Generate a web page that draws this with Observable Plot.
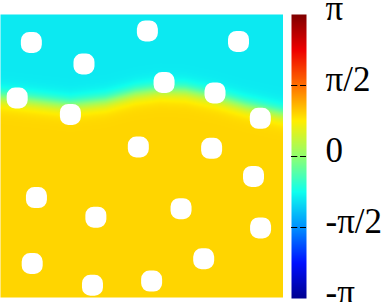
<!DOCTYPE html>
<html>
<head>
<meta charset="utf-8">
<script src="https://cdn.jsdelivr.net/npm/d3@7"></script>
<script src="https://cdn.jsdelivr.net/npm/@observablehq/plot@0.6"></script>
<style>
  html, body { margin: 0; padding: 0; background: #fff; overflow: hidden; }
  #wrap { display: flex; width: 389px; height: 302px; }
</style>
</head>
<body>
<div id="wrap"></div>
<script>
const PI = Math.PI;

// Phase levels (upper cyan region, lower gold region)
const phaseTop = -0.3 * PI;
const phaseBottom = 0.3 * PI;

// Interface between the two regions (domain units 0..100, y up)
const boundaryX = [0, 12.4, 24.7, 37.1, 47.7, 56.5, 65.4, 76.0, 86.6, 100];
const boundaryY = [70.8, 69.4, 68.0, 69.4, 72.2, 73.4, 73.0, 70.8, 67.8, 64.8];
const interfaceWidth = 3.2;

// Obstacles (white holes)
const holeX = [10.9, 51.9, 84.1, 29.5, 57.8, 75.8, 5.9, 24.7, 91.8, 48.7, 74.6, 89.4, 12.7, 33.7, 63.8, 91.9, 11.2, 71.8, 32.5, 53.4];
const holeY = [90.1, 94.2, 90.5, 82.5, 76.0, 72.3, 70.5, 64.7, 63.3, 53.2, 52.7, 42.8, 35.3, 28.4, 31.4, 24.6, 12.0, 13.7, 4.3, 5.8];

// Palette (gnuplot jet-like) and colorbar ticks
const paletteStops = [-PI, -3*PI/4, -PI/2, -PI/4, 0, PI/4, PI/2, 3*PI/4, PI];
const paletteColors = ["#000090", "#000fff", "#0090ff", "#0fffee", "#90ff70", "#ffee00", "#ff7000", "#ee0000", "#7f0000"];
const tickValues = [PI, PI/2, 0, -PI/2, -PI];
const tickLabels = ["π", "π/2", "0", "-π/2", "-π"];
const innerTicks = [PI/2, 0, -PI/2];

const holes = holeX.map((x, i) => ({x, y: holeY[i]}));
const boundary = d3.scaleLinear().domain(boundaryX).range(boundaryY).clamp(true);

const colorScale = {type: "linear", domain: paletteStops, range: paletteColors, interpolate: "rgb"};

const roundedSquare = {
  draw(ctx, size) {
    const side = 2 * Math.sqrt(size / Math.PI);
    const h = side / 2, c = side * 0.4;
    ctx.moveTo(-h + c, -h);
    ctx.arcTo(h, -h, h, h, c);
    ctx.arcTo(h, h, -h, h, c);
    ctx.arcTo(-h, h, -h, -h, c);
    ctx.arcTo(-h, -h, h, -h, c);
    ctx.closePath();
  }
};

const field = Plot.plot({
  width: 283,
  height: 302,
  marginLeft: 0, marginRight: 0, marginTop: 14, marginBottom: 5,
  x: {domain: [0, 100], axis: null},
  y: {domain: [0, 100], axis: null},
  color: colorScale,
  marks: [
    Plot.raster({
      x1: 0, x2: 100, y1: 0, y2: 100, width: 283, height: 283,
      fill: (x, y) => {
        const t = (1 + Math.tanh((boundary(x) - y) / interfaceWidth)) / 2;
        return phaseTop + (phaseBottom - phaseTop) * t;
      }
    }),
    Plot.dot(holes, {x: "x", y: "y", r: 10.5, symbol: roundedSquare, fill: "white", stroke: "none"})
  ]
});

const bar = Plot.plot({
  width: 106,
  height: 302,
  marginLeft: 8, marginRight: 83, marginTop: 14, marginBottom: 4,
  x: {domain: [0, 1], axis: null},
  y: {domain: [-PI, PI], axis: null},
  color: colorScale,
  style: {overflow: "visible"},
  marks: [
    Plot.raster({x1: 0, x2: 1, y1: -PI, y2: PI, width: 1, height: 284, fill: (x, y) => y}),
    Plot.ruleY(innerTicks, {y: d => d, x1: 0, x2: 0.42, stroke: "black", strokeWidth: 1}),
    Plot.ruleY(innerTicks, {y: d => d, x1: 0.6, x2: 1, stroke: "black", strokeWidth: 1}),
    Plot.text(tickValues, {
      x: 1, y: d => d, text: (d, i) => tickLabels[i],
      textAnchor: "start", lineAnchor: "bottom", dx: 19, dy: 5,
      fontFamily: "Liberation Serif", fontSize: 35, fill: "black"
    })
  ]
});

const wrap = document.getElementById("wrap");
wrap.appendChild(field);
wrap.appendChild(bar);
</script>
</body>
</html>
